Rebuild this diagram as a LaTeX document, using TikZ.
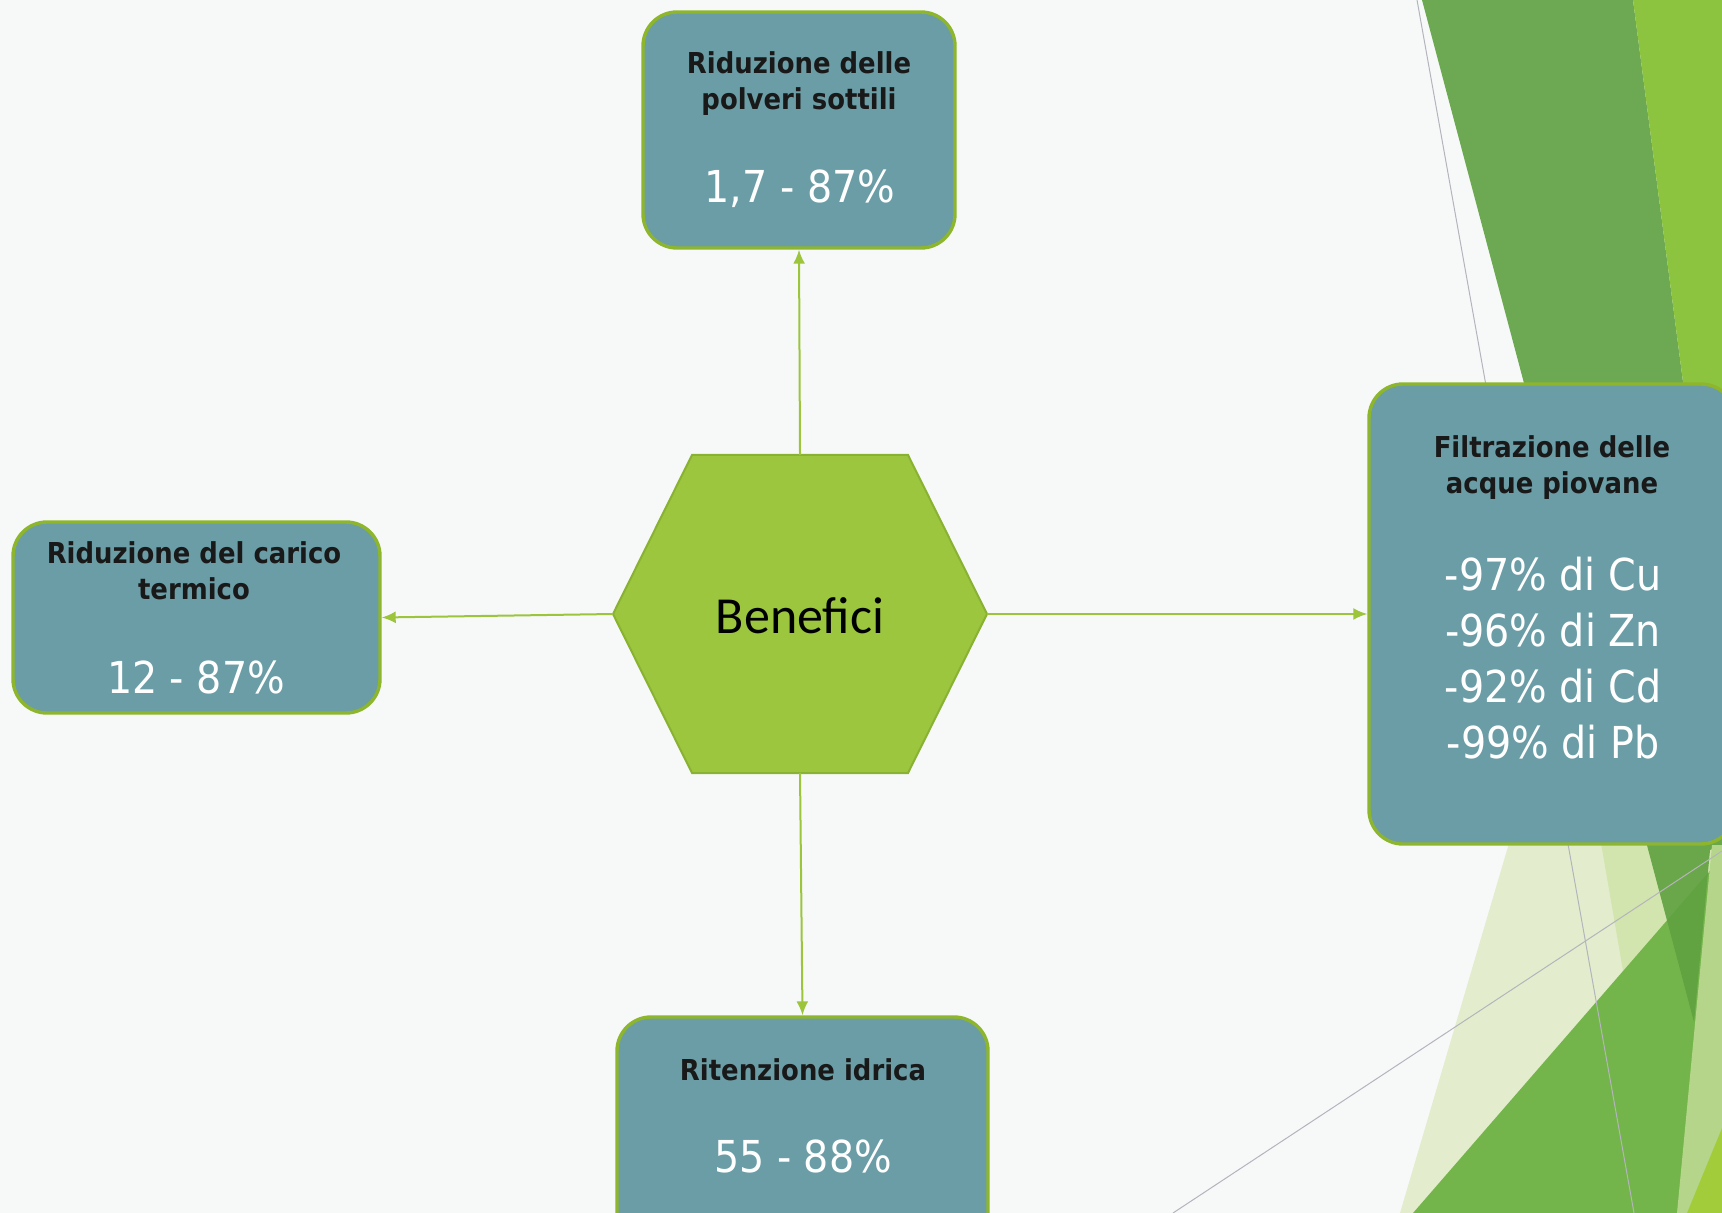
\documentclass[tikz,border=0pt]{standalone}
\usepackage{fontspec}
\setmainfont{DejaVu Sans}[FakeStretch=0.9]
\newfontfamily\hexfont{Carlito}
\usetikzlibrary{arrows.meta}

\definecolor{paper}{HTML}{F7F9F9}
\definecolor{boxfill}{HTML}{6A9DA6}
\definecolor{boxline}{HTML}{8DB62C}
\definecolor{hexfill}{HTML}{9BC63E}
\definecolor{hexline}{HTML}{8AB232}
\definecolor{link}{HTML}{9CC53C}
\definecolor{facetpale}{HTML}{E3EDCD}
\definecolor{facetband}{HTML}{D3E5AE}
\definecolor{facetgreen}{HTML}{74B54B}
\definecolor{facetdark}{HTML}{5FA040}
\definecolor{facetlime}{HTML}{8DC43F}
\definecolor{facetlight}{HTML}{B5D68A}
\definecolor{facetyellow}{HTML}{A3CC3A}
\definecolor{hairline}{HTML}{B4B4BC}

\tikzset{
  infobox/.style={draw=boxline, line width=1.7pt, fill=boxfill, rounded corners=17pt},
  boxtitle/.style={anchor=base, align=center, text=black!90,
    font=\fontsize{14.4}{18}\selectfont\bfseries},
  boxvalue/.style={anchor=base, align=center, text=white,
    font=\fontsize{22}{28}\selectfont},
  link/.style={draw=link, line width=1pt, -{Latex[length=7pt,width=6pt]}},
  hairline/.style={draw=hairline, line width=0.5pt}
}

\begin{document}
\begin{tikzpicture}[x=0.5pt,y=-0.5pt]
  \useasboundingbox (0,0) rectangle (1722,1213);
  \clip (0,0) rectangle (1722,1213);
  \fill[paper] (0,0) rectangle (1722,1213);

  % facets on the right border
  \fill[facetpale] (1400,1213) -- (1560,670) -- (1722,670) -- (1722,1213) -- cycle;
  \fill[facetband] (1597,820) -- (1722,820) -- (1722,857) -- (1623,971) -- cycle;
  \fill[facetgreen] (1413,1213) -- (1722,857) -- (1722,1213) -- cycle;
  \fill[facetdark, fill opacity=0.9] (1422,0) -- (1633,0) -- (1722,680) -- (1722,845)
    -- (1710,850) -- (1694,1022) -- cycle;
  \fill[facetlime] (1633,0) -- (1722,0) -- (1722,680) -- cycle;
  \fill[facetlight] (1712,845) -- (1722,845) -- (1722,1213) -- (1677,1213) -- cycle;
  \fill[facetyellow] (1687,1213) -- (1722,1128) -- (1722,1213) -- cycle;
  \draw[hairline] (1417,0) -- (1634,1213);
  \draw[hairline] (1173,1213) -- (1722,851);

  % central hexagon
  \filldraw[fill=hexfill, draw=hexline, line width=1pt]
    (692,455) -- (908,455) -- (987,614) -- (908,773) -- (692,773) -- (613,614) -- cycle;
  \coordinate (hexN) at (800,455);
  \coordinate (hexS) at (800,773);
  \coordinate (hexW) at (613,614);
  \coordinate (hexE) at (987,614);
  \node[anchor=base, font=\hexfont\fontsize{26}{30}\selectfont] (benefici) at (800,633) {Benefici};

  % boxes
  \node[infobox, minimum width=156pt, minimum height=118pt] (polveri) at (799,130) {};
  \node[infobox, minimum width=183.5pt, minimum height=95.5pt] (termico) at (196.5,617.5) {};
  \node[infobox, minimum width=185.5pt, minimum height=121.5pt] (idrica) at (802.5,1138.5) {};
  \node[infobox, minimum width=183pt, minimum height=230pt] (acque) at (1552,614) {};

  % texts (base = last line)
  \node[boxtitle] (polveri-t) at (799,110) {Riduzione delle\\polveri sottili};
  \node[boxvalue] (polveri-v) at (800,203) {1,7 - 87\%};
  \node[boxtitle] (termico-t) at (194,599) {Riduzione del carico\\termico};
  \node[boxvalue] (termico-v) at (196,693) {12 - 87\%};
  \node[boxtitle] (idrica-t) at (803,1080) {Ritenzione idrica};
  \node[boxvalue] (idrica-v) at (803,1172) {55 - 88\%};
  \node[boxtitle] (acque-t) at (1552,494) {Filtrazione delle\\acque piovane};
  \node[boxvalue] (acque-v) at (1553,758) {-97\% di Cu\\-96\% di Zn\\-92\% di Cd\\-99\% di Pb};

  % connectors
  \draw[link] (hexN) -- (polveri.south);
  \draw[link] (hexW) -- (termico.east);
  \draw[link] (hexE) -- (acque.west);
  \draw[link] (hexS) -- (idrica.north);
\end{tikzpicture}
\end{document}
